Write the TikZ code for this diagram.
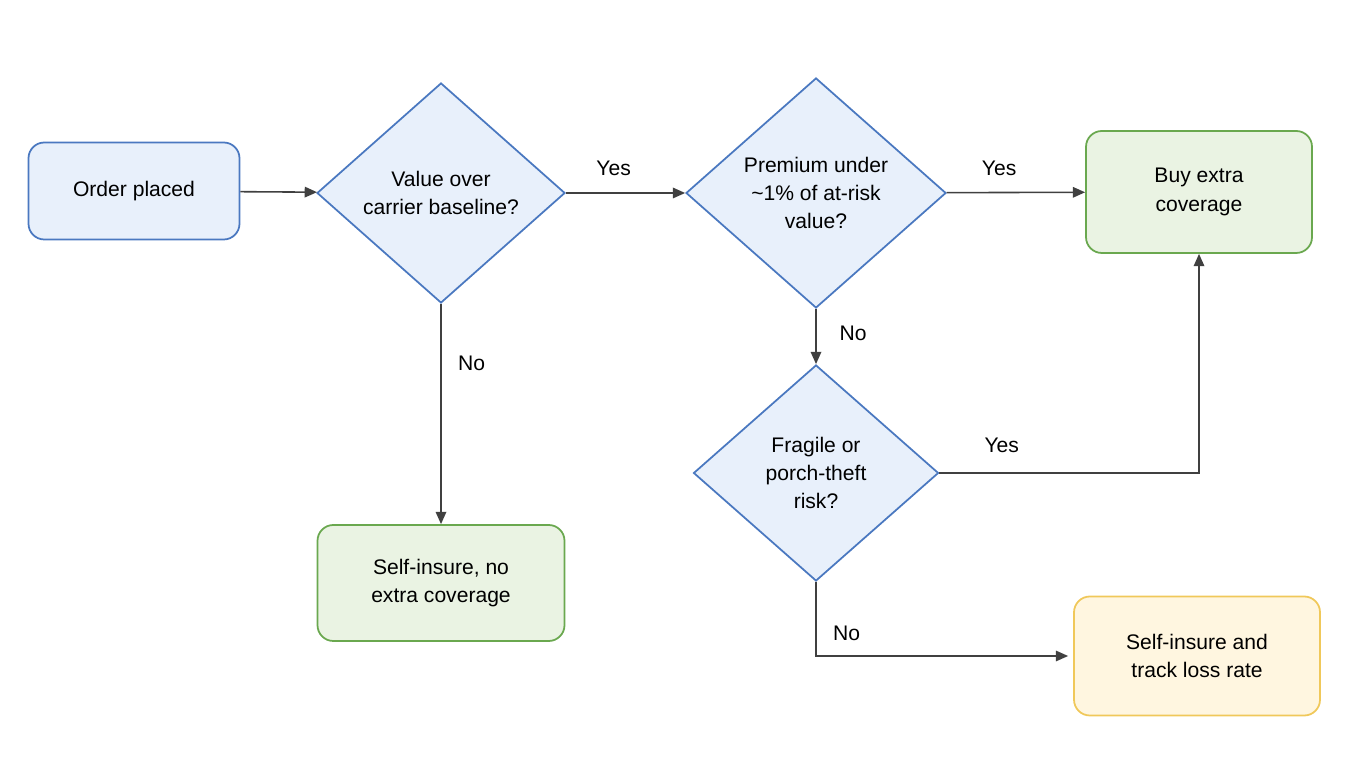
\documentclass[tikz,border=0pt]{standalone}
\usepackage{fontspec}
\setmainfont{Liberation Sans}
\usetikzlibrary{shapes.geometric,arrows.meta}
\definecolor{bluefill}{HTML}{E8F0FB}
\definecolor{blueline}{HTML}{4A78C0}
\definecolor{greenfill}{HTML}{EAF3E3}
\definecolor{greenline}{HTML}{6AA84F}
\definecolor{yellowfill}{HTML}{FFF6E0}
\definecolor{yellowline}{HTML}{F0C85A}
\tikzset{
  box/.style={draw=#1line, fill=#1fill, line width=1pt, rounded corners=9pt, align=center, inner sep=0pt, font=\fontsize{12}{16}\selectfont},
  decision/.style={diamond, draw=blueline, fill=bluefill, line width=1pt, inner sep=0pt, align=center, font=\fontsize{12}{16}\selectfont},
  flow/.style={-{Triangle[length=7pt,width=6pt]}, draw=black!75, line width=0.9pt},
  lbl/.style={font=\fontsize{12}{14}\selectfont}
}
\begin{document}
\begin{tikzpicture}
\useasboundingbox (0,0) rectangle (27.2,15.36);

\node[box=blue, minimum width=4.22cm, minimum height=1.94cm] (order) at (2.68,11.54) {Order placed};
\node[decision, minimum width=4.96cm, minimum height=4.4cm] (value) at (8.82,11.5) {Value over\\carrier baseline?};
\node[decision, minimum width=5.2cm, minimum height=4.6cm] (premium) at (16.32,11.5) {Premium under\\\textasciitilde1\% of at-risk\\value?};
\node[box=green, minimum width=4.52cm, minimum height=2.44cm] (buy) at (23.98,11.52) {Buy extra\\coverage};
\node[decision, minimum width=4.9cm, minimum height=4.32cm] (fragile) at (16.32,5.9) {Fragile or\\porch-theft\\risk?};
\node[box=green, minimum width=4.94cm, minimum height=2.32cm] (selfno) at (8.82,3.7) {Self-insure, no\\extra coverage};
\node[box=yellow, minimum width=4.92cm, minimum height=2.38cm] (track) at (23.94,2.24) {Self-insure and\\track loss rate};

\draw[flow] (order) -- (value);
\draw[flow] (value) -- node[lbl, above=6pt, pos=0.4] {Yes} (premium);
\draw[flow] (premium) -- node[lbl, above=6pt, pos=0.38] {Yes} (buy);
\draw[flow] (value) -- node[lbl, right=6pt, pos=0.27] {No} (selfno);
\draw[flow] (premium.south) -- ++(0,-0.3) coordinate (mid) -- (fragile.north);
\node[lbl] at (17.06,8.7) {No};
\draw[flow] (fragile.east) -| node[lbl, above=8pt, pos=0.12] {Yes} (buy.south);
\draw[flow] (fragile.south) |- node[lbl, right=6pt, pos=0.35] {No} ([xshift=-0.1cm]track.west);

\end{tikzpicture}
\end{document}
